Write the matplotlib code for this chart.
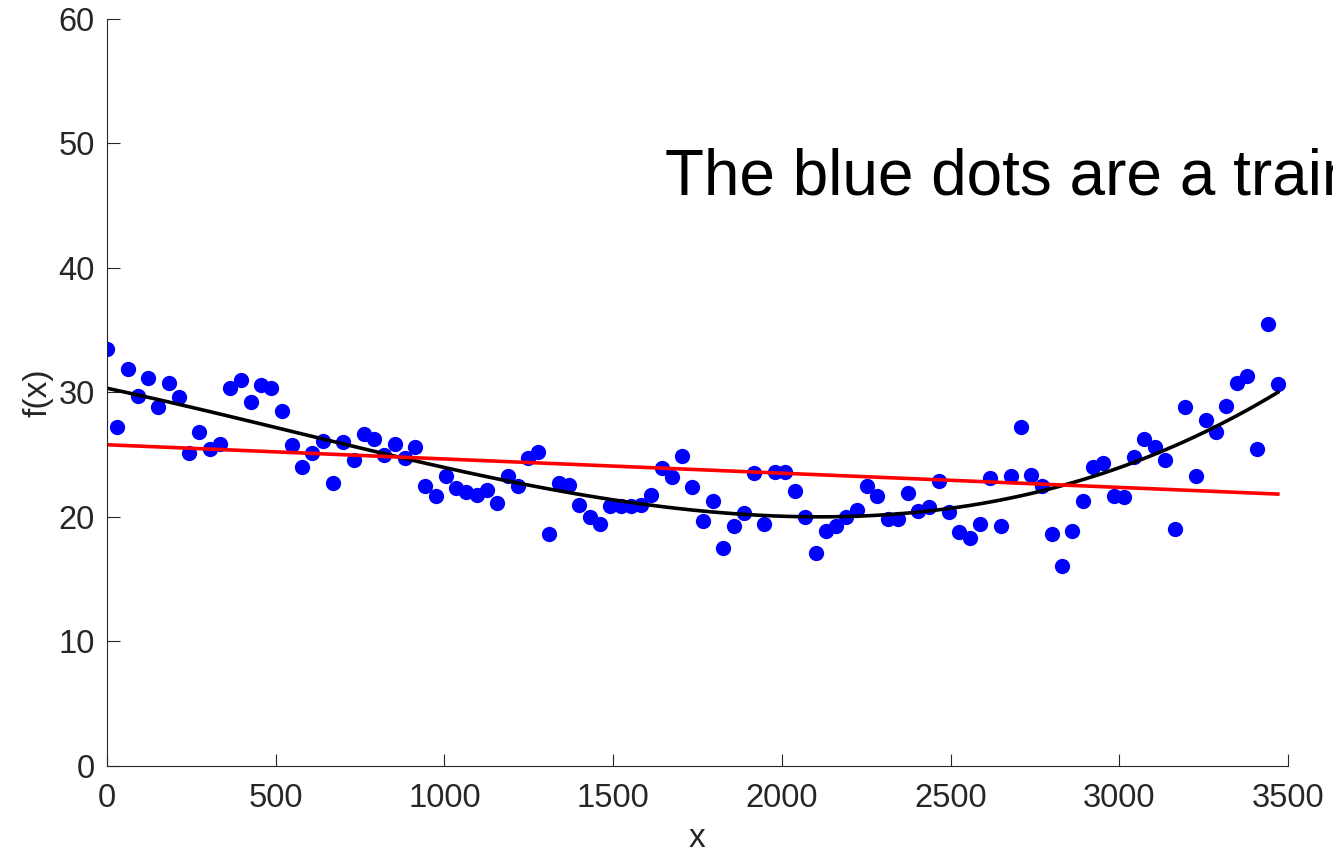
import numpy as np
import matplotlib.pyplot as plt

plt.rcParams['font.family'] = ['Liberation Sans', 'DejaVu Sans']

# training samples, evenly spaced along x
x = np.linspace(0, 3470, 115)
y = [33.5, 27.2, 31.9, 29.7, 31.2, 28.8, 30.8, 29.6, 25.1, 26.8,
     25.5, 25.9, 30.4, 31.0, 29.2, 30.6, 30.4, 28.5, 25.8, 24.0,
     25.1, 26.1, 22.7, 26.0, 24.6, 26.7, 26.3, 25.0, 25.9, 24.7,
     25.6, 22.5, 21.7, 23.3, 22.3, 22.0, 21.8, 22.2, 21.1, 23.3,
     22.5, 24.7, 25.2, 18.6, 22.7, 22.6, 21.0, 20.0, 19.4, 20.9,
     20.9, 20.9, 21.0, 21.8, 23.9, 23.2, 24.9, 22.4, 19.7, 21.3,
     17.5, 19.3, 20.3, 23.5, 19.4, 23.6, 23.6, 22.1, 20.0, 17.1,
     18.9, 19.3, 20.0, 20.6, 22.5, 21.7, 19.8, 19.8, 21.9, 20.5,
     20.8, 22.9, 20.4, 18.8, 18.3, 19.4, 23.1, 19.3, 23.3, 27.2,
     23.4, 22.5, 18.6, 16.1, 18.9, 21.3, 24.0, 24.3, 21.7, 21.6,
     24.8, 26.3, 25.6, 24.6, 19.0, 28.8, 23.3, 27.8, 26.8, 28.9,
     30.8, 31.3, 25.5, 35.5, 30.7]
y = np.array(y)

# straight-line and cubic least-squares fits
lin = np.polyval(np.polyfit(x, y, 1), x)
cub = np.polyval(np.polyfit(x, y, 3), x)

fig = plt.figure(figsize=(13.33, 8.55), dpi=100)
ax = fig.add_axes([0.0803, 0.1041, 0.8859, 0.8737])

ax.plot(x, y, 'o', color='blue', markersize=11, markeredgewidth=0)
ax.plot(x, cub, color='black', linewidth=2.6)
ax.plot(x, lin, color='red', linewidth=2.6)

# runs off the right edge of the figure
ax.text(1655, 45.9, 'The blue dots are a training set', fontsize=46,
        va='baseline', ha='left', color='black')

ax.set_xlim(0, 3500)
ax.set_ylim(0, 60)
ax.set_xticks(np.arange(0, 3501, 500))
ax.set_yticks(np.arange(0, 61, 10))
for s in ['top', 'right']:
    ax.spines[s].set_visible(False)
for s in ['left', 'bottom']:
    ax.spines[s].set_color('#262626')
    ax.spines[s].set_linewidth(0.8)
ax.tick_params(direction='in', length=9, width=0.8, colors='#262626',
               labelsize=23.5, pad=9)
ax.tick_params(axis='x', pad=12.5)
ax.set_xlabel('x', fontsize=24, color='#262626', labelpad=6)
ax.set_ylabel('f(x)', fontsize=24, color='#262626', labelpad=3)

fig.savefig('out.png', dpi=100)
